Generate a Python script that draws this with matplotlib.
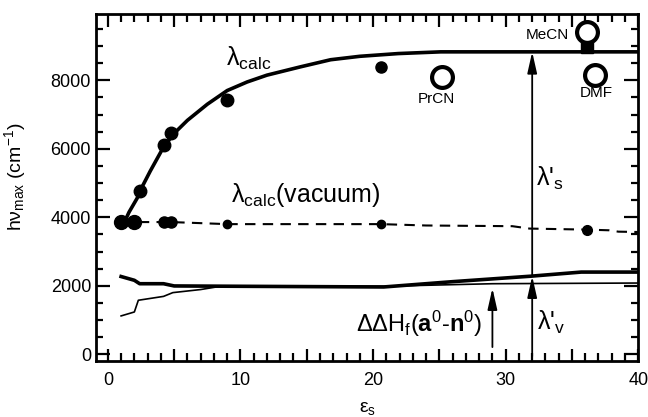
import matplotlib
matplotlib.use("Agg")
import matplotlib.pyplot as plt
from matplotlib.ticker import MultipleLocator, FuncFormatter

plt.rcParams['font.family'] = ['Liberation Sans', 'DejaVu Sans']
plt.rcParams['mathtext.fontset'] = 'custom'
plt.rcParams['mathtext.rm'] = 'Liberation Sans'
plt.rcParams['mathtext.it'] = 'Liberation Sans:italic'
plt.rcParams['mathtext.bf'] = 'Liberation Sans:bold'

# lambda_calc fitted curve
eps_calc = [1.0, 1.6, 2.2, 2.6, 3.2, 4.2, 5.0, 6.0, 7.5, 9.0, 10.5, 12.0, 14.5, 16.8, 19.0, 21.9, 25.1, 40.0]
hv_calc = [3650, 4150, 4550, 4900, 5350, 6050, 6450, 6830, 7300, 7700, 7950, 8150, 8390, 8600, 8700, 8780, 8830, 8830]

# measured band maxima (filled)
eps_obs = [2.4, 4.2, 4.8, 9.0, 20.6]
hv_obs = [4780, 6120, 6450, 7420, 8390]
ms_obs = [9, 9, 9, 9, 8]

# open circles (solvents)
solv_names = ['PrCN', 'MeCN', 'DMF']
eps_solv = [25.2, 36.1, 36.7]
hv_solv = [8100, 9420, 8150]
eps_mecn_fill = 36.1
hv_mecn_fill = 8960

# lambda_calc(vacuum), dashed
eps_vac = [1.0, 2.0, 4.2, 4.8, 9.0, 20.6, 24.0, 30.5, 31.8, 36.1, 37.8, 38.5, 40.0]
hv_vac = [3860, 3860, 3860, 3860, 3800, 3800, 3760, 3740, 3670, 3640, 3620, 3580, 3570]
eps_vac_pts = [1.0, 2.0, 4.2, 4.8, 9.0, 20.6, 36.1]
hv_vac_pts = [3860, 3860, 3860, 3860, 3800, 3800, 3630]
ms_vac_pts = [10, 10, 8, 8, 6, 6, 7]

# lower curves
eps_thick = [1.0, 2.0, 2.4, 4.2, 5.0, 10.0, 20.8, 26.0, 31.9, 35.7, 40.0]
hv_thick = [2270, 2160, 2060, 2060, 1995, 1985, 1965, 2120, 2280, 2400, 2400]
eps_thin = [1.0, 2.0, 2.3, 4.2, 4.9, 7.0, 8.5, 10.0, 20.8, 29.0, 40.0]
hv_thin = [1120, 1235, 1577, 1690, 1800, 1890, 1985, 1990, 1985, 2060, 2080]

fig = plt.figure(figsize=(6.48, 4.17), dpi=100)
ax = fig.add_axes([0.148, 0.134, 0.837, 0.832])

ax.plot(eps_calc, hv_calc, color='black', lw=2.6, solid_capstyle='butt')
for x, y, m in zip(eps_obs, hv_obs, ms_obs):
    ax.plot(x, y, 'o', color='black', ms=m)
ax.plot(eps_mecn_fill, hv_mecn_fill, 's', color='black', ms=8)
ax.plot(eps_solv, hv_solv, 'o', mfc='white', mec='black', mew=3, ms=15)

ax.plot(eps_vac, hv_vac, color='black', lw=1.5, dashes=(5, 3.5))
for x, y, m in zip(eps_vac_pts, hv_vac_pts, ms_vac_pts):
    ax.plot(x, y, 'o', color='black', ms=m)

ax.plot(eps_thick, hv_thick, color='black', lw=2.6)
ax.plot(eps_thin, hv_thin, color='black', lw=1.2)

arrow = dict(arrowstyle='-|>,head_length=0.8,head_width=0.18', color='black',
             lw=1.3, shrinkA=0, shrinkB=0, mutation_scale=16)
ax.annotate('', xy=(32, 8830), xytext=(32, 2280), arrowprops=arrow)
ax.annotate('', xy=(32, 2280), xytext=(32, -60), arrowprops=arrow)
ax.annotate('', xy=(29, 1930), xytext=(29, 210), arrowprops=arrow)

ax.text(8.9, 8430, r'λ$_{\mathrm{calc}}$', fontsize=18)
ax.text(9.3, 4450, r'λ$_{\mathrm{calc}}$(vacuum)', fontsize=18)
ax.text(32.3, 4930, r"λ'$_{\mathrm{s}}$", fontsize=18)
ax.text(32.4, 700, r"λ'$_{\mathrm{v}}$", fontsize=18)
ax.text(28.2, 640, r'ΔΔH$_{\mathrm{f}}$($\mathbf{a}^{0}$-$\mathbf{n}^{0}$)',
        fontsize=17, ha='right')
ax.text(34.8, 9330, solv_names[1], fontsize=11, ha='right', va='center')
ax.text(24.8, 7450, solv_names[0], fontsize=11, ha='center', va='center')
ax.text(36.8, 7640, solv_names[2], fontsize=11, ha='center', va='center')

ax.set_xlim(-0.9, 40)
ax.set_ylim(-200, 9930)
ax.xaxis.set_major_locator(MultipleLocator(5))
ax.xaxis.set_minor_locator(MultipleLocator(1))
ax.xaxis.set_major_formatter(FuncFormatter(lambda v, p: '%d' % v if round(v) % 10 == 0 else ''))
ax.yaxis.set_major_locator(MultipleLocator(2000))
ax.yaxis.set_minor_locator(MultipleLocator(500))

ax.tick_params(which='both', direction='in', top=True, right=True, width=1.6, labelsize=13)
ax.tick_params(axis='x', which='major', length=9)
ax.tick_params(axis='x', which='minor', length=6)
ax.tick_params(axis='y', which='major', length=10)
ax.tick_params(axis='y', which='minor', length=5)
ax.tick_params(axis='x', pad=8)
for s in ax.spines.values():
    s.set_linewidth(2)

ax.set_xlabel(r'ε$_{\mathrm{s}}$', fontsize=14, labelpad=8)
ax.set_ylabel(r'hν$_{\mathrm{max}}$ (cm$^{-1}$)', fontsize=14)
ax.yaxis.set_label_coords(-0.125, 0.53)

fig.savefig('out.png', dpi=100)
